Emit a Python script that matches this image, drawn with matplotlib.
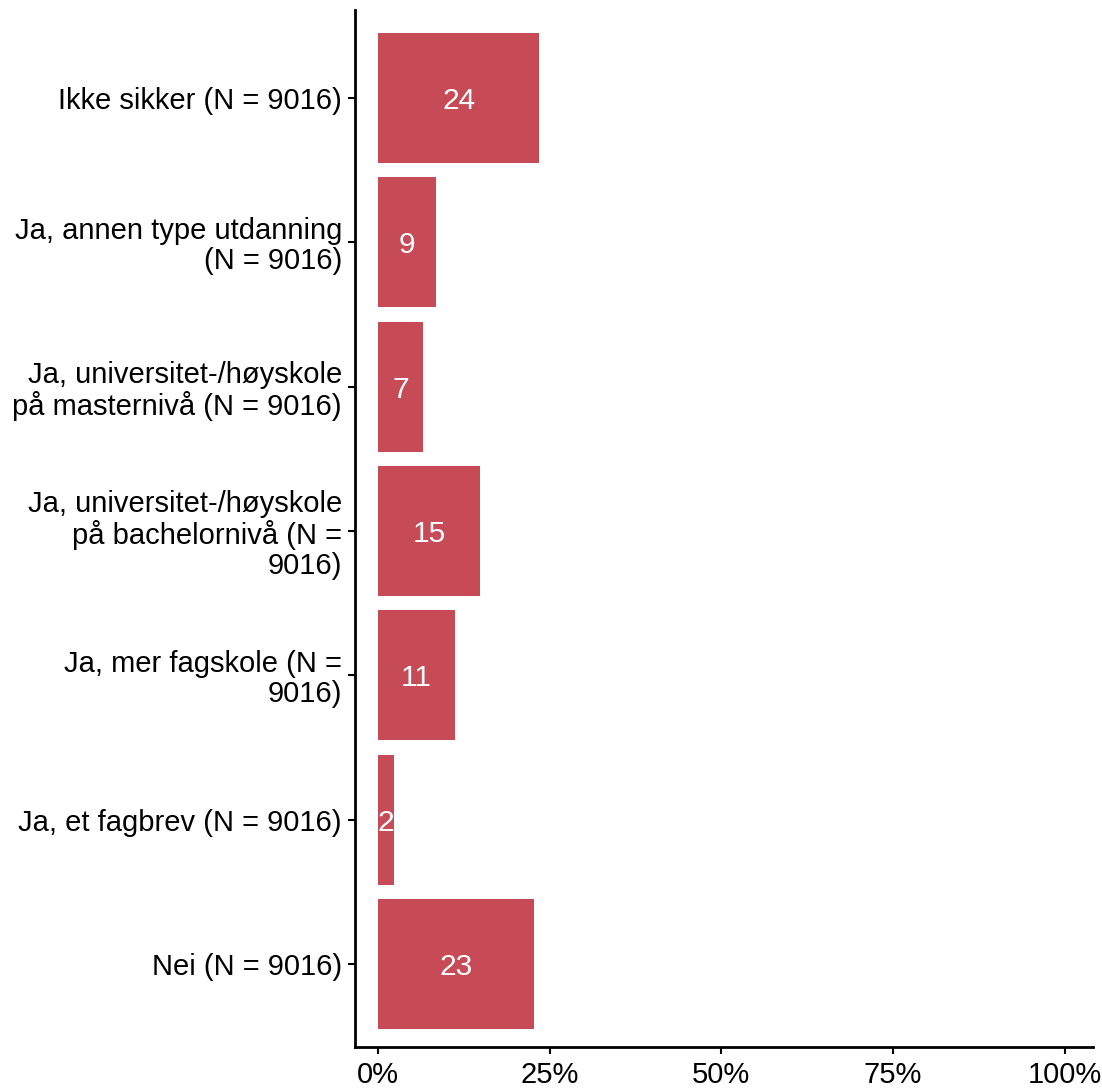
import numpy as np
import matplotlib
matplotlib.use('Agg')
import matplotlib.pyplot as plt

plt.rcParams['font.family'] = ['Liberation Sans', 'DejaVu Sans']

# data, listed top to bottom as in the chart
categories = [
    'Ikke sikker (N = 9016)',
    'Ja, annen type utdanning\n(N = 9016)',
    'Ja, universitet-/høyskole\npå masternivå (N = 9016)',
    'Ja, universitet-/høyskole\npå bachelornivå (N =\n9016)',
    'Ja, mer fagskole (N =\n9016)',
    'Ja, et fagbrev (N = 9016)',
    'Nei (N = 9016)',
]
values = [23.5, 8.5, 6.6, 14.9, 11.3, 2.4, 22.8]
value_labels = ['24', '9', '7', '15', '11', '2', '23']
xticks = [0, 25, 50, 75, 100]
xtick_labels = ['0%', '25%', '50%', '75%', '100%']

bar_color = '#C74B57'

W, H = 1102, 1089
fig = plt.figure(figsize=(W / 100, H / 100), dpi=100)
ax = fig.add_axes([354.5 / W, 1 - 1047 / H, (1093 - 354.5) / W, (1047 - 10) / H])

ypos = np.arange(len(categories))[::-1]
ax.barh(ypos, values, height=0.9, color=bar_color)

for y, v, lab in zip(ypos, values, value_labels):
    ax.text(v / 2, y, lab, ha='center', va='center_baseline', color='white', fontsize=21.5)

ax.set_xlim(-3.4, 104.1)
ax.set_ylim(-0.575, 6.61)
ax.set_yticks(ypos)
ax.set_yticklabels(categories, fontsize=21, linespacing=1.08)
ax.set_xticks(xticks)
ax.set_xticklabels(xtick_labels, fontsize=21)

for s in ['top', 'right']:
    ax.spines[s].set_visible(False)
for s in ['left', 'bottom']:
    ax.spines[s].set_linewidth(2.0)
    ax.spines[s].set_color('black')
ax.tick_params(axis='both', length=5, width=1.5, color='black', labelcolor='black')
ax.tick_params(axis='x', pad=5)
ax.tick_params(axis='y', pad=4)

fig.savefig('out.png', dpi=100)
